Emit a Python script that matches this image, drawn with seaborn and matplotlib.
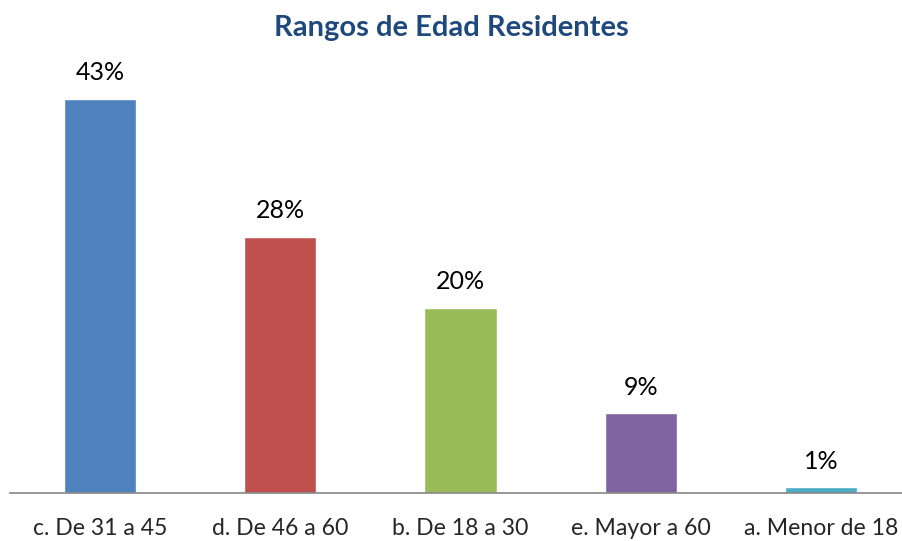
import pandas as pd
import matplotlib.pyplot as plt
import seaborn as sns

# Data
categories = ['c. De 31 a 45', 'd. De 46 a 60', 'b. De 18 a 30', 'e. Mayor a 60', 'a. Menor de 18']
values = [43.0, 27.9, 20.2, 8.7, 0.6]
colors = ['#4F81BD', '#C0504D', '#9BBB59', '#8064A2', '#4BACC6']

df = pd.DataFrame({'rango': categories, 'pct': values})

sns.set_style('white')
plt.rcParams['font.family'] = ['Lato', 'DejaVu Sans']

fig = plt.figure(figsize=(9.02, 5.41), dpi=100)
ax = fig.add_axes([10 / 902, 48 / 541, 901 / 902, 433 / 541])

sns.barplot(data=df, x='rango', y='pct', hue='rango', palette=colors,
            width=0.4, legend=False, ax=ax, saturation=1)

ax.set_xlim(-0.5, 4.5)
ax.set_ylim(0, 433 / 9.17)

for i, v in enumerate(values):
    ax.text(i, v + 1.6, f"{v:.0f}%", ha='center', va='bottom', fontsize=18, color='black')

for s in ['top', 'right', 'left']:
    ax.spines[s].set_visible(False)
ax.spines['bottom'].set_color('#868686')
ax.spines['bottom'].set_linewidth(1.2)
ax.set_yticks([])
ax.set_xlabel('')
ax.set_ylabel('')
ax.tick_params(axis='x', length=0, pad=18, labelsize=16.6)

fig.text(0.5, 1 - 28 / 541, 'Rangos de Edad Residentes', ha='center', va='center',
         fontsize=21, fontweight='bold', color='#1F497D')

fig.savefig('out.png', dpi=100)
